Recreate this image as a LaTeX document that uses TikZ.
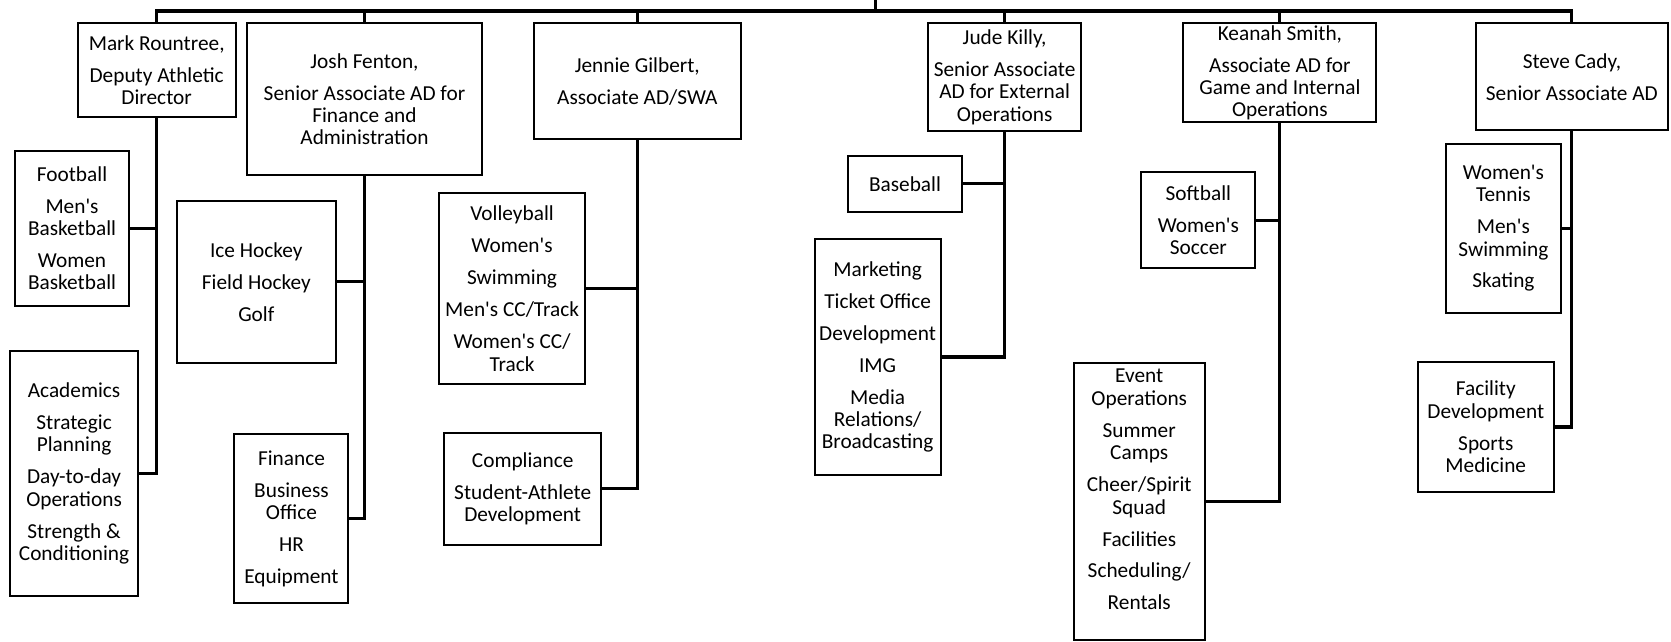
\documentclass[tikz,border=0pt]{standalone}
\usepackage{fontspec}
\setmainfont{Carlito}[Ligatures=TeXOff]
\begin{document}
\begin{tikzpicture}[x=1pt,y=-1pt]
\tikzset{
  box/.style={draw, line width=1.9pt, inner sep=0pt, align=center, font=\fontsize{20}{21}\selectfont},
  txt/.style={inner sep=0pt, align=center, font=\fontsize{20}{21}\selectfont},
  conn/.style={line width=2.9pt},
}
\useasboundingbox (0,0) rectangle (1568,602);
% managers
\node[box, minimum width=148pt, minimum height=88pt] (mark) at (147,66) {Mark Rountree,\\[9pt]Deputy Athletic\\Director};
\node[box, minimum width=220pt, minimum height=142pt] (josh) at (342,93) {Josh Fenton,\\[9pt]Senior Associate AD for\\Finance and\\Administration};
\node[box, minimum width=194pt, minimum height=108.4pt] (jennie) at (598,76.2) {Jennie Gilbert,\\[9pt]Associate AD/SWA};
\node[box, minimum width=143.5pt, minimum height=100.6pt] (jude) at (942.7,72.3) {Jude Killy,\\[9pt]Senior Associate\\AD for External\\Operations};
\node[box, minimum width=181pt, minimum height=92.8pt] (keanah) at (1201,68.4) {Keanah Smith,\\[9pt]Associate AD for\\Game and Internal\\Operations};
\node[box, minimum width=180pt, minimum height=100pt] (steve) at (1475,72) {Steve Cady,\\[9pt]Senior Associate AD};
% children
\node[box, minimum width=107.3pt, minimum height=145.6pt] (foot) at (67.6,214.2) {Football\\[9pt]Men's\\Basketball\\[9pt]Women\\Basketball};
\node[box, minimum width=120.2pt, minimum height=230.3pt] (acad) at (69.5,444.2) {Academics\\[9pt]Strategic\\Planning\\[9pt]Day-to-day\\Operations\\[9pt]Strength \&\\Conditioning};
\node[box, minimum width=149pt, minimum height=151.7pt] (ice) at (240.5,264.5) {Ice Hockey\\[9pt]Field Hockey\\[9pt]Golf};
\node[box, minimum width=107pt, minimum height=158.5pt] (fin) at (273.5,486.8) {Finance\\[9pt]Business\\Office\\[9pt]HR\\[9pt]Equipment};
\node[box, minimum width=137pt, minimum height=179.2pt] (volley) at (480.5,271) {Volleyball\\[9pt]Women's\\[9pt]Swimming\\[9pt]Men's CC/Track\\[9pt]Women's CC/\\Track};
\node[box, minimum width=147pt, minimum height=105.4pt] (compl) at (490.5,458.7) {Compliance\\[9pt]Student-Athlete\\Development};
\node[box, minimum width=107.1pt, minimum height=53.2pt] (base) at (849.2,172.6) {Baseball};
\node[box, minimum width=118.3pt, minimum height=221.4pt] (mkt) at (823.5,335) {Marketing\\[9pt]Ticket Office\\[9pt]Development\\[9pt]IMG\\[9pt]Media\\Relations/\\Broadcasting};
\node[box, minimum width=107pt, minimum height=90.1pt] (soft) at (1124.5,206.7) {Softball\\[9pt]Women's\\Soccer};
\node[box, minimum width=123.3pt, minimum height=259.5pt] (event) at (1069,470.7) {};
\node[txt] (event-t) at (1069,459.5) {Event\\Operations\\[9pt]Summer\\Camps\\[9pt]Cheer/Spirit\\Squad\\[9pt]Facilities\\[9pt]Scheduling/\\[9pt]Rentals};
\node[box, minimum width=107.4pt, minimum height=158.3pt] (wt) at (1410.7,214.2) {Women's\\Tennis\\[9pt]Men's\\Swimming\\[9pt]Skating};
\node[box, minimum width=127.6pt, minimum height=122.6pt] (fac) at (1394.2,400.7) {Facility\\Development\\[9pt]Sports\\Medicine};
% top bar
\coordinate (root) at (821.5,0);
\coordinate (bar) at (821.5,10.3);
\draw[conn] (root) -- (bar);
\draw[conn] (mark.north) -- (mark.north |- bar) -- (steve.north |- bar) -- (steve.north);
\foreach \n in {josh,jennie,jude,keanah}{\draw[conn] (\n.north) -- (\n.north |- bar);}
% manager to children
\draw[conn] (mark.south) |- (acad.east);
\draw[conn] (foot.east) -- (foot.east -| mark.south);
\draw[conn] (josh.south) |- (fin.east);
\draw[conn] (ice.east) -- (ice.east -| josh.south);
\draw[conn] (jennie.south) |- (compl.east);
\draw[conn] (volley.east) -- (volley.east -| jennie.south);
\draw[conn] (jude.south) |- (mkt.east);
\draw[conn] (base.east) -- (base.east -| jude.south);
\draw[conn] (keanah.south) |- (event.east);
\draw[conn] (soft.east) -- (soft.east -| keanah.south);
\draw[conn] (steve.south) |- (fac.east);
\draw[conn] (wt.east) -- (wt.east -| steve.south);
\end{tikzpicture}
\end{document}
